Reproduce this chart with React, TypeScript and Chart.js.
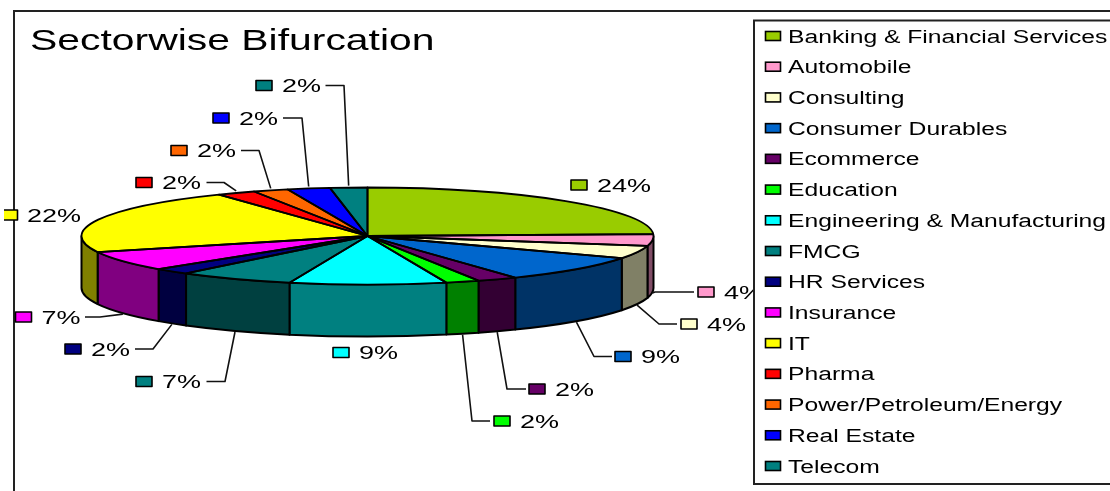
import React, { useEffect, useRef } from "react";
import { Chart, registerables } from "chart.js";

Chart.register(...registerables);

const titleText = "Sectorwise Bifurcation";
const sectors = [
  "Banking & Financial Services",
  "Automobile",
  "Consulting",
  "Consumer Durables",
  "Ecommerce",
  "Education",
  "Engineering & Manufacturing",
  "FMCG",
  "HR Services",
  "Insurance",
  "IT",
  "Pharma",
  "Power/Petroleum/Energy",
  "Real Estate",
  "Telecom",
];
const shares = [24.4, 3.9, 4.3, 8.8, 2.3, 1.9, 8.85, 6.55, 2.1, 6.6, 21.7, 2.2, 2.0, 2.4, 2.1];
const topColors = [
  "#99CC00", "#FF99CC", "#FFFFCC", "#0066CC", "#660066",
  "#00FF00", "#00FFFF", "#008080", "#000080", "#FF00FF",
  "#FFFF00", "#FF0000", "#FF6600", "#0000FF", "#008080",
];
const wallColors = [
  "#4D6600", "#804D66", "#808066", "#003366", "#330033",
  "#008000", "#008080", "#004040", "#000040", "#800080",
  "#808000", "#800000", "#803300", "#000080", "#004040",
];

// Label placement: swatch left, row centre, optional leader elbow and leader end.
const labelLayout: { x: number; y: number; ex?: number; ey?: number; lx?: number }[] = [
  { x: 571, y: 185 },
  { x: 698, y: 292, ex: 655, ey: 292, lx: 694 },
  { x: 681, y: 324, ex: 659, ey: 324, lx: 677 },
  { x: 615, y: 356.5, ex: 594, ey: 356.5, lx: 612 },
  { x: 529, y: 389, ex: 507, ey: 389, lx: 526 },
  { x: 494, y: 421, ex: 472, ey: 421, lx: 490 },
  { x: 333, y: 352.5 },
  { x: 136, y: 381.5, ex: 225, ey: 381.5, lx: 206.5 },
  { x: 65, y: 349, ex: 153, ey: 349, lx: 135 },
  { x: 15.5, y: 317, ex: 100, ey: 317, lx: 85 },
  { x: 1, y: 215 },
  { x: 136, y: 182.5, ex: 224, ey: 182.5, lx: 206.5 },
  { x: 171, y: 150.5, ex: 259, ey: 150.5, lx: 241 },
  { x: 213, y: 118, ex: 302, ey: 118, lx: 283 },
  { x: 256, y: 85.5, ex: 344, ey: 85.5, lx: 325.5 },
];

const INK = "#000000";
const FONT = '"Liberation Sans", Arial, sans-serif';
const RADIUS = 286;
const SQUASH = 48.5 / 286;
const DEPTH = 52;
const STRETCH_LEGEND = 1.37;
const STRETCH_LABEL = 1.5;
const STRETCH_TITLE = 1.41;

function wideText(ctx: CanvasRenderingContext2D, text: string, x: number, y: number, size: number, sx: number) {
  ctx.save();
  ctx.translate(x, y);
  ctx.scale(sx, 1);
  ctx.font = `${size}px ${FONT}`;
  ctx.fillStyle = "#000";
  ctx.textAlign = "left";
  ctx.textBaseline = "alphabetic";
  ctx.fillText(text, 0, 0);
  ctx.restore();
}

function swatch(ctx: CanvasRenderingContext2D, x: number, y: number, w: number, h: number, color: string) {
  ctx.fillStyle = color;
  ctx.strokeStyle = INK;
  ctx.lineWidth = 1.6;
  ctx.fillRect(x, y, w, h);
  ctx.strokeRect(x, y, w, h);
}

const pie3d = {
  id: "pie3d",
  beforeDraw(chart: any) {
    const { ctx, width, height } = chart;
    ctx.save();
    ctx.fillStyle = "#fff";
    ctx.fillRect(0, 0, width, height);
    ctx.strokeStyle = "#222";
    ctx.lineWidth = 2;
    ctx.strokeRect(14, 11, width + 100, height + 100);
    wideText(ctx, titleText, 30, 50, 29, STRETCH_TITLE);
    ctx.restore();
  },
  beforeDatasetsDraw(chart: any) {
    const { ctx } = chart;
    const arcs = chart.getDatasetMeta(0).data;
    ctx.save();
    ctx.lineJoin = "round";
    arcs.forEach((arc: any, i: number) => {
      const a = Math.max(arc.startAngle, 0);
      const b = Math.min(arc.endAngle, Math.PI);
      if (a >= b) return;
      const rx = arc.outerRadius;
      const ry = rx * SQUASH;
      ctx.beginPath();
      ctx.ellipse(arc.x, arc.y, rx, ry, 0, a, b);
      ctx.ellipse(arc.x, arc.y + DEPTH, rx, ry, 0, b, a, true);
      ctx.closePath();
      ctx.fillStyle = wallColors[i];
      ctx.strokeStyle = INK;
      ctx.lineWidth = 2;
      ctx.fill();
      ctx.stroke();
    });
    ctx.restore();
  },
  beforeDatasetDraw(chart: any) {
    const { ctx } = chart;
    const first = chart.getDatasetMeta(0).data[0];
    ctx.save();
    ctx.translate(first.x, first.y);
    ctx.scale(1, SQUASH);
    ctx.translate(-first.x, -first.y);
  },
  afterDatasetDraw(chart: any) {
    chart.ctx.restore();
  },
  afterDatasetsDraw(chart: any) {
    const { ctx } = chart;
    const arcs = chart.getDatasetMeta(0).data;
    const values = chart.data.datasets[0].data as number[];
    const total = values.reduce((s, v) => s + v, 0);
    ctx.save();
    ctx.lineJoin = "round";
    arcs.forEach((arc: any) => {
      ctx.beginPath();
      ctx.moveTo(arc.x, arc.y);
      ctx.ellipse(arc.x, arc.y, arc.outerRadius, arc.outerRadius * SQUASH, 0, arc.startAngle, arc.endAngle);
      ctx.closePath();
      ctx.strokeStyle = INK;
      ctx.lineWidth = 1.8;
      ctx.stroke();
    });
    arcs.forEach((arc: any, i: number) => {
      const place = labelLayout[i];
      if (place.ex !== undefined) {
        const mid = (arc.startAngle + arc.endAngle) / 2;
        const sinM = Math.sin(mid);
        const sx = arc.x + arc.outerRadius * Math.cos(mid);
        const sy = arc.y + arc.outerRadius * SQUASH * sinM + (sinM > 0 ? DEPTH + 1 : -2);
        ctx.beginPath();
        ctx.moveTo(sx, sy);
        ctx.lineTo(place.ex, place.ey);
        ctx.lineTo(place.lx, place.ey);
        ctx.strokeStyle = "#111";
        ctx.lineWidth = 1.6;
        ctx.stroke();
      }
      ctx.save();
      ctx.beginPath();
      ctx.rect(4, 0, chart.width, chart.height);
      ctx.clip();
      swatch(ctx, place.x, place.y - 5, i === 10 ? 16.5 : 16, 10, topColors[i]);
      ctx.restore();
      const pct = `${Math.round((values[i] / total) * 100)}%`;
      wideText(ctx, pct, place.x + 26, place.y + 6.5, 18, STRETCH_LABEL);
    });
    ctx.restore();
  },
  afterDraw(chart: any) {
    const { ctx, width } = chart;
    ctx.save();
    ctx.fillStyle = "#fff";
    ctx.strokeStyle = "#222";
    ctx.lineWidth = 2;
    ctx.fillRect(754, 20.5, width, 463.5);
    ctx.strokeRect(754, 20.5, width, 463.5);
    const labels = chart.data.labels as string[];
    labels.forEach((label, i) => {
      const y = 36 + (i * (466 - 36)) / 14;
      swatch(ctx, 765.5, y - 4.5, 15, 9, topColors[i]);
      wideText(ctx, label, 788, y + 6.6, 18, STRETCH_LEGEND);
    });
    ctx.restore();
  },
};

export default function App() {
  const ref = useRef<HTMLCanvasElement | null>(null);
  useEffect(() => {
    if (!ref.current) return;
    const chart = new Chart(ref.current, {
      type: "pie",
      data: {
        labels: sectors,
        datasets: [
          {
            data: shares,
            backgroundColor: topColors,
            borderWidth: 0,
            radius: RADIUS,
            clip: false,
          } as any,
        ],
      },
      options: {
        animation: false,
        responsive: false,
        events: [],
        layout: { padding: { left: 0, right: 375, top: 0, bottom: 19 } },
        plugins: { legend: { display: false }, tooltip: { enabled: false } },
      },
      plugins: [pie3d],
    } as any);
    return () => chart.destroy();
  }, []);
  return (
    <div style={{ position: "fixed", left: 0, top: 0, width: 1110, height: 491, overflow: "hidden", background: "#fff" }}>
      <canvas ref={ref} width={1110} height={491} style={{ display: "block" }} />
    </div>
  );
}
